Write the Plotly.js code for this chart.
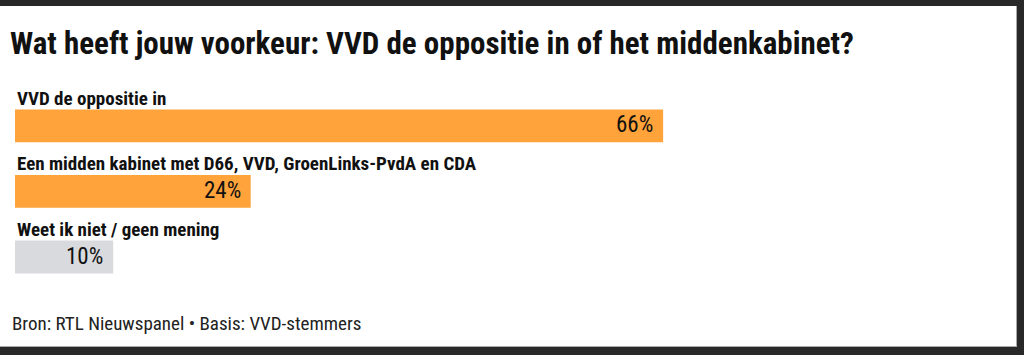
<!DOCTYPE html>
<html><head><meta charset="utf-8">
<script src="https://cdn.plot.ly/plotly-3.0.1.min.js"></script>
<style>
html,body{margin:0;padding:0;background:#282828;width:1024px;height:355px;overflow:hidden;}
#chart{position:absolute;left:0;top:6px;width:1016px;height:340px;background:#fff;border-right:1px solid #aaa;border-bottom:1px solid #aaa;}
</style></head>
<body><div id="chart"></div>
<script>
const categories = ["VVD de oppositie in", "Een midden kabinet met D66, VVD, GroenLinks-PvdA en CDA", "Weet ik niet / geen mening"];
const values = [66, 24, 10];
const barColors = ["#ffa33a", "#ffa33a", "#d9dadd"];
const titleText = "Wat heeft jouw voorkeur: VVD de oppositie in of het middenkabinet?";
const footerText = "Bron: RTL Nieuwspanel \u2022 Basis: VVD-stemmers";

const FONT = "'Roboto Condensed', 'Liberation Sans Narrow', 'DejaVu Sans Condensed', Roboto, sans-serif";
const W = 1016, H = 340;
const mt = 86.9, mb = 48.35, ml = 15, mr = 19;
const ph = H - mt - mb, pw = W - ml - mr;

const annotations = [];
categories.forEach((c, i) => {
  annotations.push({x: 0, y: c, xref: 'x', yref: 'y', text: '<b>' + c + '</b>', showarrow: false,
    xanchor: 'left', yanchor: 'middle', yshift: 27.5, font: {family: FONT, size: 19, color: '#111'}});
  annotations.push({x: values[i], y: c, xref: 'x', yref: 'y', text: values[i] + '%', showarrow: false,
    xanchor: 'right', yanchor: 'middle', xshift: -8, yshift: 1, font: {family: FONT, size: 23, color: '#111'}});
});
annotations.push({x: (10 - ml) / pw, y: (mt + ph - (323 - 6)) / ph, xref: 'paper', yref: 'paper',
  text: footerText, showarrow: false, xanchor: 'left', yanchor: 'middle',
  font: {family: FONT, size: 19, color: '#222'}});

Plotly.newPlot('chart', [{
  type: 'bar', orientation: 'h', x: values, y: categories,
  marker: {color: barColors}, width: 0.5, hoverinfo: 'none'
}], {
  width: W, height: H,
  margin: {l: ml, r: mr, t: mt, b: mb, pad: 0},
  paper_bgcolor: '#ffffff', plot_bgcolor: '#ffffff',
  title: {text: '<b>' + titleText + '</b>', x: 10 / W, xanchor: 'left', xref: 'container',
    y: 1 - 37 / H, yanchor: 'middle', yref: 'container', font: {family: FONT, size: 31, color: '#111'}},
  xaxis: {range: [0, 100], visible: false, fixedrange: true},
  yaxis: {autorange: 'reversed', visible: false, fixedrange: true},
  showlegend: false,
  annotations: annotations
}, {displayModeBar: false, staticPlot: true});
</script></body></html>
